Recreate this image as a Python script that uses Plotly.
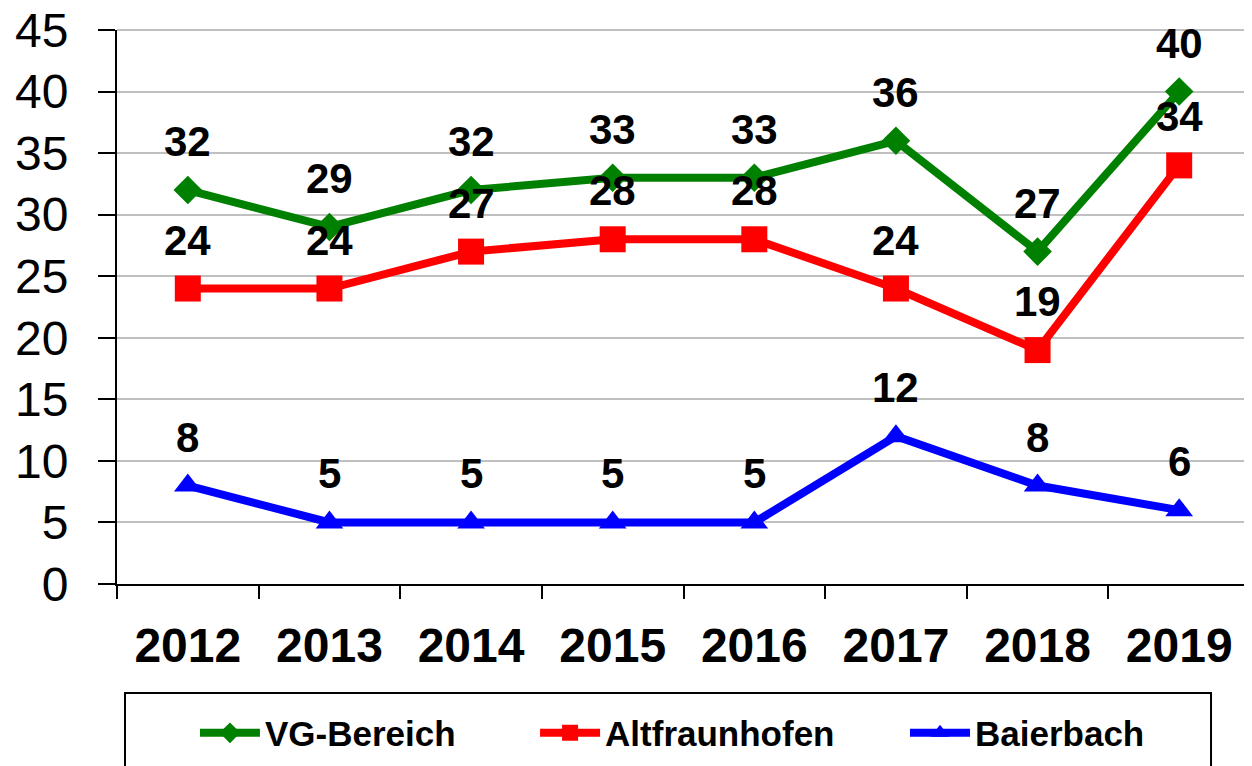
import plotly.graph_objects as go

years = ["2012", "2013", "2014", "2015", "2016", "2017", "2018", "2019"]
vg_bereich = [32, 29, 32, 33, 33, 36, 27, 40]
altfraunhofen = [24, 24, 27, 28, 28, 24, 19, 34]
baierbach = [8, 5, 5, 5, 5, 12, 8, 6]
y_ticks = [0, 5, 10, 15, 20, 25, 30, 35, 40, 45]

FONT = "Arial, Liberation Sans, sans-serif"

series = [
    ("VG-Bereich", vg_bereich, "#008000", "diamond", 22, "legend", 0.0688),
    ("Altfraunhofen", altfraunhofen, "#ff0000", "square", 26, "legend2", 0.369),
    ("Baierbach", baierbach, "#0000ff", "triangle-up", 24, "legend3", 0.6955),
]

fig = go.Figure()
annotations = []
legends = {}
for name, vals, color, sym, size, leg, lx in series:
    fig.add_trace(go.Scatter(
        x=years, y=vals, name=name,
        mode="lines+markers",
        line=dict(color=color, width=8),
        marker=dict(symbol=sym, size=size, color=color),
        cliponaxis=False,
        legend=leg,
    ))
    for i, yv in enumerate(vals):
        annotations.append(dict(
            x=i, y=yv, xref="x", yref="y", text=str(yv), showarrow=False,
            xanchor="center", yanchor="bottom", yshift=23,
            font=dict(family=FONT, size=42, color="black", weight="bold"),
        ))
    legends[leg] = dict(
        orientation="h", x=lx, xanchor="left", y=-0.269, yanchor="middle",
        font=dict(family=FONT, size=35, color="black", weight="bold"),
        bgcolor="rgba(0,0,0,0)", borderwidth=0,
        itemwidth=60,
    )

fig.update_layout(
    width=1252, height=766,
    margin=dict(l=109, r=10, t=22, b=190, autoexpand=False),
    paper_bgcolor="white", plot_bgcolor="white",
    font=dict(family=FONT, color="black"),
    showlegend=True,
    annotations=annotations,
    xaxis=dict(
        type="category", range=[-0.5, 7.5], automargin=False,
        showline=True, linecolor="black", linewidth=2,
        ticks="outside", tickson="boundaries", ticklen=13, tickwidth=2, tickcolor="black",
        tickfont=dict(family=FONT, size=48, color="black", weight="bold"),
        ticklabelstandoff=18, ticklabeloverflow="allow",
        showgrid=False, zeroline=False,
    ),
    yaxis=dict(
        range=[0, 45], tickvals=y_ticks, automargin=False,
        showline=True, linecolor="black", linewidth=2,
        ticks="outside", ticklen=17, tickwidth=2, tickcolor="black",
        tickfont=dict(family=FONT, size=48, color="black"),
        ticklabelstandoff=20, ticklabeloverflow="allow",
        showgrid=True, gridcolor="#c0c0c0", gridwidth=2,
        zeroline=False,
    ),
    shapes=[
        dict(type="line", xref="x domain", yref="y domain", x0=0, x1=1, y0=1, y1=1,
             line=dict(color="#c0c0c0", width=2)),
        dict(type="line", xref="x domain", yref="y domain", x0=1, x1=1, y0=0, y1=1,
             line=dict(color="#c0c0c0", width=2)),
        dict(type="rect", xref="paper", yref="paper", x0=0.00706, x1=0.9656, y0=-0.1968, y1=-0.4,
             line=dict(color="black", width=2), fillcolor="rgba(0,0,0,0)", layer="below"),
    ],
    **legends,
)

fig.write_html("out.html")
